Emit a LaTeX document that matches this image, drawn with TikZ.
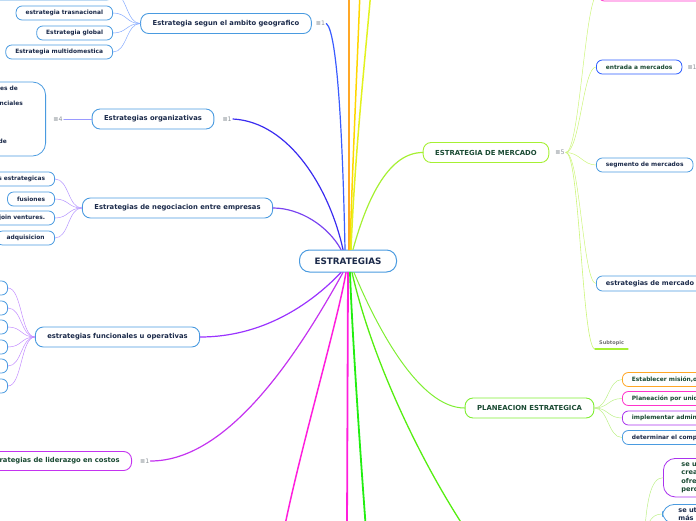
\documentclass[tikz,border=0pt]{standalone}
\usepackage{fontspec}
\setmainfont{DejaVu Sans}
\definecolor{nblue}{HTML}{4A9BE0}
\definecolor{navy}{HTML}{1B2A4A}
\definecolor{dkgreen}{HTML}{1A4A33}
\definecolor{icongray}{HTML}{8C9399}
\definecolor{subgray}{HTML}{707070}
\definecolor{orac}{HTML}{FFA726}
\definecolor{yelc}{HTML}{FFD600}
\definecolor{ygrc}{HTML}{E2F21E}
\definecolor{geoc}{HTML}{3A5CFF}
\definecolor{orgc}{HTML}{3A2CF0}
\definecolor{negc}{HTML}{7A44F0}
\definecolor{func}{HTML}{9A33FF}
\definecolor{lidc}{HTML}{C433F0}
\definecolor{magc}{HTML}{FF1EDC}
\definecolor{grnc}{HTML}{22EE11}
\definecolor{grnd}{HTML}{55EE11}
\definecolor{plac}{HTML}{80EE33}
\definecolor{merc}{HTML}{A6F033}
\definecolor{pinkc}{HTML}{FF33CC}
\definecolor{entc}{HTML}{2B5CFF}
\definecolor{purc}{HTML}{AA33EE}
\definecolor{geotwig}{HTML}{85AAFF}
\definecolor{orgtwig}{HTML}{9A9AFF}
\definecolor{negtwig}{HTML}{B495FF}
\definecolor{funtwig}{HTML}{C38DFF}
\definecolor{mertwig}{HTML}{CCF57A}
\definecolor{platwig}{HTML}{BDF088}
\newcommand\lsticon[1]{\textcolor{icongray}{≣#1}}
\begin{document}
\begin{tikzpicture}[x=1pt,y=-1pt,line cap=round,line join=round,
	root/.style={draw=nblue,line width=1pt,rounded corners=10pt,fill=white,text=navy,font=\bfseries\fontsize{8.8}{10}\selectfont,minimum height=22pt,minimum width=97pt},
	topic/.style={draw=nblue,line width=.9pt,rounded corners=8pt,fill=white,text=navy,font=\bfseries\fontsize{6.8}{8}\selectfont,minimum height=20pt,inner xsep=12pt,inner ysep=2pt},
	sub/.style={draw=nblue,line width=.8pt,rounded corners=6pt,fill=white,text=navy,font=\bfseries\fontsize{5.9}{7}\selectfont,minimum height=14pt,inner xsep=9.5pt,inner ysep=1pt},
	cnt/.style={font=\fontsize{6.2}{7}\selectfont,inner sep=1pt},
	frag/.style={text=navy,font=\bfseries\fontsize{5.9}{7}\selectfont,inner sep=0pt},
	twig/.style={line width=.5pt},
	branch/.style={line width=1.2pt}]
	\useasboundingbox (0,0) rectangle (696,520);
	\clip (0,0) rectangle (696,520);
	\node[root] (root) at (348,261) {ESTRATEGIAS};
	\coordinate (topA) at (349,-10); \coordinate (topB) at (360,-10); \coordinate (topC) at (371,-10);
	\coordinate (botA) at (284,530); \coordinate (botB) at (347,530); \coordinate (botC) at (366,530); \coordinate (botD) at (466,530);
	\coordinate (bxroot) at (644,545);
	% left side
	\node[topic] (geo) at (226,23.5) {Estrategia segun el ambito geografico};
	\node[cnt,anchor=west] (geoN) at ([xshift=3pt]geo.east) {\lsticon1};
	\node[sub,anchor=east,minimum width=118pt] (geo0) at (113,-7) {};
	\node[sub,anchor=east] (geo1) at (113,13) {estrategia trasnacional};
	\node[sub,anchor=east] (geo2) at (113,33) {Estrategia global};
	\node[sub,anchor=east] (geo3) at (113,52) {Estrategia multidomestica};
	\foreach \c in {0,...,3} \draw[twig,geotwig] (geo.west) .. controls +(-14,0) and +(14,0) .. (geo\c.east);
	\node[topic] (org) at (153,119) {Estrategias organizativas};
	\node[cnt,anchor=west] (orgN) at ([xshift=7pt]org.east) {\lsticon1};
	\node[cnt,anchor=east] (orgM) at ([xshift=-28pt]org.west) {\lsticon4};
	\draw[twig,orgtwig] (orgM.east) -- (org.west);
	\node[sub,anchor=east,minimum width=80pt,minimum height=74pt,rounded corners=13pt] (orgbox) at (46,119) {};
	\node[frag,anchor=east] (orgt1) at (18,88) {les de};
	\node[frag,anchor=east] (orgt2) at (23,103) {nciales};
	\node[frag,anchor=east] (orgt3) at (7,141) {de};
	\node[topic] (neg) at (177.5,208) {Estrategias de negociacion entre empresas};
	\node[sub,anchor=east,text width=70pt,align=right] (neg1) at (55,179) {s estrategicas};
	\node[sub,anchor=east] (neg2) at (55,199) {fusiones};
	\node[sub,anchor=east] (neg3) at (55,218) {join ventures.};
	\node[sub,anchor=east,minimum width=58pt] (neg4) at (55,238) {adquisicion};
	\foreach \c in {1,...,4} \draw[twig,negtwig] (neg.west) .. controls +(-14,0) and +(14,0) .. (neg\c.east);
	\node[topic] (fun) at (117.5,337) {estrategias funcionales u operativas};
	\foreach \y [count=\i] in {288,308,327,347,366,386} \node[sub,anchor=east,minimum width=30pt] (fun\i) at (8,\y) {};
	\foreach \i in {1,...,6} \draw[twig,funtwig] (fun.west) .. controls +(-14,0) and +(14,0) .. (fun\i.east);
	\node[topic,draw=lidc,text=dkgreen,anchor=east,text width=160pt,align=right,minimum height=19pt] (lid) at (132,461) {rategias de liderazgo en costos};
	\node[cnt,anchor=west] (lidN) at ([xshift=7pt]lid.east) {\lsticon1};
	% right side
	\node[topic,draw=merc,text=dkgreen,font=\bfseries\fontsize{6.9}{8}\selectfont] (mer) at (486,152.5) {ESTRATEGIA DE MERCADO};
	\node[cnt,anchor=west] (merN) at ([xshift=5pt]mer.east) {\lsticon5};
	\node[sub,draw=pinkc,anchor=west,minimum width=110pt] (mer0) at (598,-6) {};
	\node[sub,draw=entc,text=dkgreen,anchor=west] (mer1) at (596,67) {entrada a mercados};
	\node[cnt,anchor=west] (mer1N) at ([xshift=4pt]mer1.east) {\lsticon1};
	\node[sub,anchor=west] (mer2) at (596,165) {segmento de mercados};
	\node[sub,anchor=west,font=\bfseries\fontsize{6.6}{8}\selectfont,minimum height=15pt] (mer3) at (596,283.5) {estrategias de mercado};
	\node[anchor=west,text=subgray,font=\bfseries\fontsize{5}{6}\selectfont,inner sep=1pt] (mer4) at (598,343.5) {Subtopic};
	\coordinate (mer4a) at (595,349); \coordinate (mer4b) at (628,349);
	\foreach \c in {0,...,3} \draw[twig,mertwig] (merN.east) .. controls +(14,0) and +(-13,0) .. (mer\c.west);
	\draw[line width=.6pt,mertwig] (merN.east) .. controls +(14,0) and +(-13,0) .. (mer4a);
	\draw[line width=1.1pt,merc] (mer4a) -- (mer4b);
	\node[topic,draw=plac,text=dkgreen,font=\bfseries\fontsize{6.9}{8}\selectfont] (pla) at (529.5,408) {PLANEACION ESTRATEGICA};
	\node[sub,draw=orac,text=dkgreen,anchor=west,text width=90pt,align=left] (pla1) at (622,379.5) {Establecer misión,o};
	\node[sub,draw=pinkc,text=dkgreen,anchor=west,text width=90pt,align=left] (pla2) at (622,398.5) {Planeación por unid};
	\node[sub,draw=purc,text=dkgreen,anchor=west,text width=90pt,align=left] (pla3) at (622,418) {implementar admin};
	\node[sub,anchor=west,text width=90pt,align=left] (pla4) at (622,437.5) {determinar el comp};
	\foreach \c in {1,...,4} \draw[twig,platwig] (pla.east) .. controls +(14,0) and +(-14,0) .. (pla\c.west);
	\node[sub,draw=purc,text=dkgreen,anchor=north west,text width=60pt,align=left,rounded corners=12pt,inner xsep=18pt,inner ysep=4pt,font=\bfseries\fontsize{6.6}{8.5}\selectfont] (bx1) at (663,458) {se u\\crea\\ofre\\perc};
	\node[sub,anchor=north west,text width=60pt,align=left,rounded corners=12pt,inner xsep=16pt,inner ysep=3pt,font=\bfseries\fontsize{6.6}{8.5}\selectfont] (bx2) at (662,504) {se ut\\más};
	\draw[twig,platwig] (bxroot) .. controls +(2,-45) and +(-12,0) .. (bx1.west);
	\draw[twig,platwig] (bxroot) .. controls +(2,-20) and +(-12,0) .. (bx2.west);
	% branches
	\draw[orac,line width=2pt] ([xshift=1pt]root.north) -- (topA);
	\draw[yelc,line width=1.5pt] ([xshift=2pt]root.north) .. controls (353,150) and (358,50) .. (topB);
	\draw[ygrc,line width=1.5pt] ([xshift=3pt]root.north) .. controls (355,150) and (366,50) .. (topC);
	\draw[geoc,branch] ([xshift=-3pt]root.north) .. controls (343,150) and (338,32) .. (geoN.east);
	\draw[orgc,branch] ([xshift=-5pt]root.north) .. controls (330,190) and (290,122) .. (orgN.east);
	\draw[negc,branch] ([xshift=-7pt]root.north) .. controls (328,226) and (300,208) .. (neg.east);
	\draw[merc,branch] ([xshift=5pt]root.north) .. controls (368,195) and (390,152.5) .. (mer.west);
	\draw[func,branch] ([xshift=-7pt]root.south) .. controls (310,305) and (262,337) .. (fun.east);
	\draw[lidc,branch] ([xshift=-5pt]root.south) .. controls (300,350) and (230,461) .. (lidN.east);
	\draw[magc,line width=1.5pt] ([xshift=-2pt]root.south) .. controls (338,320) and (300,450) .. (botA);
	\draw[magc,line width=1.8pt] (root.south) -- (botB);
	\draw[grnc,line width=1.8pt] ([xshift=2pt]root.south) .. controls (352,330) and (360,450) .. (botC);
	\draw[grnd,line width=1.3pt] ([xshift=4pt]root.south) .. controls (372,360) and (420,460) .. (botD);
	\draw[plac,line width=1pt] ([xshift=6pt]root.south) .. controls (378,330) and (420,408) .. (pla.west);
\end{tikzpicture}
\end{document}
